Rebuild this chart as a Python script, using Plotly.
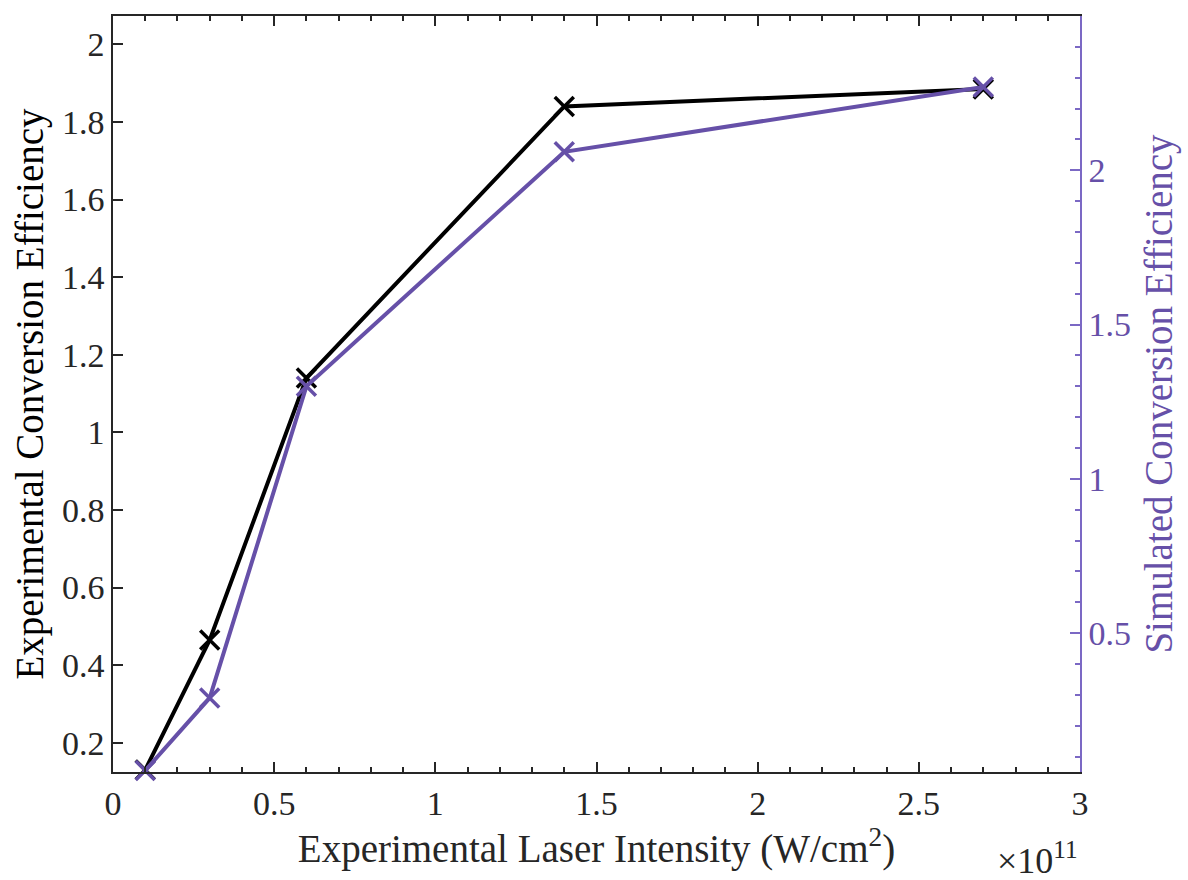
import plotly.graph_objects as go

intensity = [0.1, 0.3, 0.6, 1.4, 2.7]  # x 1e11 W/cm^2
experimental = [0.13, 0.465, 1.14, 1.84, 1.885]
simulated = [0.055, 0.29, 1.30, 2.06, 2.27]

left_ticks = [0.2, 0.4, 0.6, 0.8, 1, 1.2, 1.4, 1.6, 1.8, 2]
right_ticks = [0.5, 1, 1.5, 2]
x_ticks = [0, 0.5, 1, 1.5, 2, 2.5, 3]

BLACK = "#000000"
PURPLE = "#6650a8"
PURPLE_AX = "#7b68c4"
FONT = "Liberation Serif"
FS = 34
TS = 39

fig = go.Figure()
fig.add_trace(go.Scatter(
    x=intensity, y=experimental, mode="lines+markers", cliponaxis=False,
    line=dict(color=BLACK, width=4),
    marker=dict(symbol="x-thin", size=19, line=dict(width=3.5, color=BLACK)),
    yaxis="y", showlegend=False))
fig.add_trace(go.Scatter(
    x=intensity, y=simulated, mode="lines+markers", cliponaxis=False,
    line=dict(color=PURPLE, width=4),
    marker=dict(symbol="x-thin", size=19, line=dict(width=3.5, color=PURPLE)),
    yaxis="y2", showlegend=False))

fig.update_layout(
    width=1188, height=880,
    margin=dict(l=113, r=108, t=16, b=108),
    paper_bgcolor="white", plot_bgcolor="white",
    font=dict(family=FONT, size=FS, color="#262626"),
    xaxis=dict(
        range=[0, 3], tickvals=x_ticks, ticktext=[str(v) for v in x_ticks],
        ticks="inside", ticklen=10, tickwidth=1.5, tickcolor="#262626",
        minor=dict(dtick=0.1, ticks="inside", ticklen=5, tickwidth=1.5, tickcolor="#262626"),
        showgrid=False, zeroline=False, showline=True, linecolor="#262626", linewidth=1.5,
        mirror="ticks",
        title=dict(text="Experimental Laser Intensity (W/cm<sup>2</sup>)", standoff=12,
                   font=dict(family=FONT, size=TS, color="#262626")),
        tickfont=dict(family=FONT, size=FS, color="#262626"),
    ),
    yaxis=dict(
        range=[0.1245, 2.073], tickvals=left_ticks, ticktext=[str(v) for v in left_ticks],
        ticks="inside", ticklen=10, tickwidth=1.5, tickcolor="#262626",
        showgrid=False, zeroline=False, showline=True, linecolor="#262626", linewidth=1.5,
        title=dict(text="Experimental Conversion Efficiency", standoff=6,
                   font=dict(family=FONT, size=TS, color="#000000")),
        tickfont=dict(family=FONT, size=FS, color="#262626"),
    ),
    yaxis2=dict(
        range=[0.05, 2.5], overlaying="y", side="right",
        tickvals=right_ticks, ticktext=[str(v) for v in right_ticks],
        ticks="inside", ticklen=10, tickwidth=1.5, tickcolor=PURPLE_AX,
        minor=dict(dtick=0.1, tick0=0, ticks="inside", ticklen=5, tickwidth=1.5, tickcolor=PURPLE_AX),
        showgrid=False, zeroline=False, showline=True, linecolor=PURPLE_AX, linewidth=1.5,
        title=dict(text="Simulated Conversion Efficiency", standoff=15,
                   font=dict(family=FONT, size=TS, color=PURPLE)),
        tickfont=dict(family=FONT, size=FS, color=PURPLE),
    ),
    annotations=[dict(
        text="×10<sup>11</sup>", xref="paper", yref="paper", x=1.0, y=0, yshift=-62,
        xanchor="right", yanchor="top", showarrow=False, xshift=0,
        font=dict(family=FONT, size=36, color="#262626"))],
)

fig.write_html("out.html")
